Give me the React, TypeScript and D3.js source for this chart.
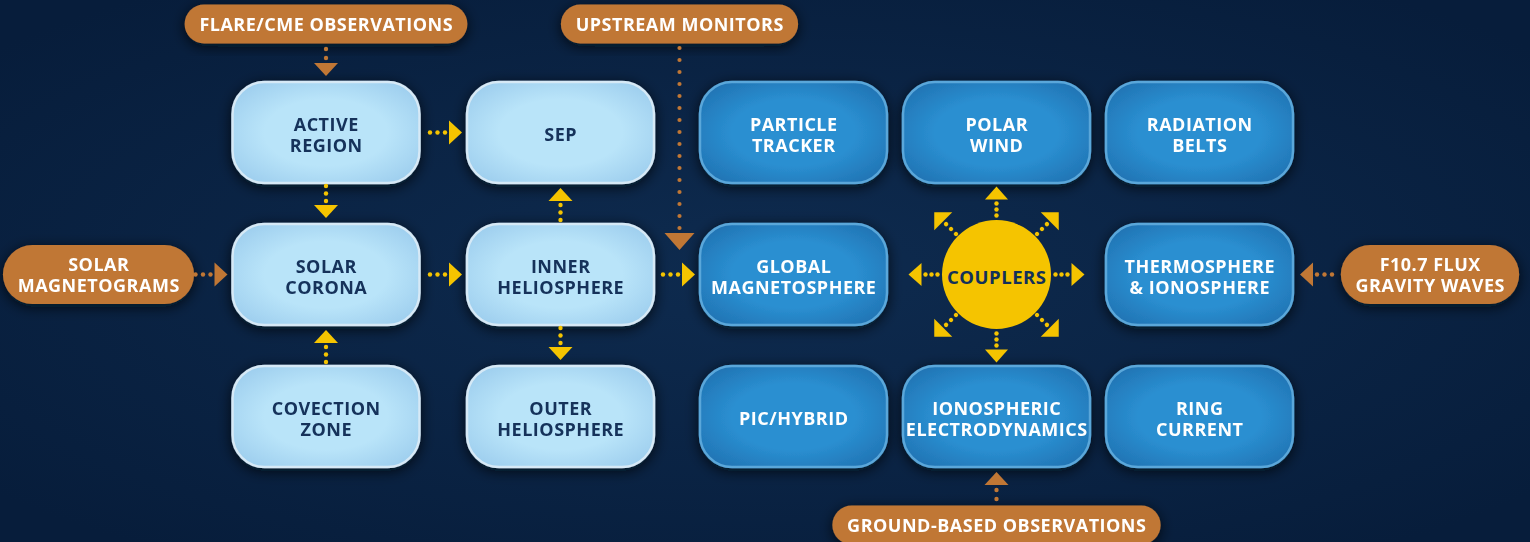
import React from 'react';
import * as d3 from 'd3';

// model boxes (grid membership only, layout lives in the scales below)
const boxIds = ['active', 'sep', 'corona', 'inner', 'convection', 'outer', 'particle', 'polar', 'radiation', 'global', 'thermo', 'pic', 'iono', 'ring'];
const boxLabels = [
  ['ACTIVE', 'REGION'], ['SEP'], ['SOLAR', 'CORONA'], ['INNER', 'HELIOSPHERE'], ['COVECTION', 'ZONE'], ['OUTER', 'HELIOSPHERE'],
  ['PARTICLE', 'TRACKER'], ['POLAR', 'WIND'], ['RADIATION', 'BELTS'], ['GLOBAL', 'MAGNETOSPHERE'], ['THERMOSPHERE', '& IONOSPHERE'],
  ['PIC/HYBRID'], ['IONOSPHERIC', 'ELECTRODYNAMICS'], ['RING', 'CURRENT'],
];
const boxCols = ['c1', 'c2', 'c1', 'c2', 'c1', 'c2', 'c3', 'c4', 'c5', 'c3', 'c5', 'c3', 'c4', 'c5'];
const boxRows = ['r1', 'r1', 'r2', 'r2', 'r3', 'r3', 'r1', 'r1', 'r1', 'r2', 'r2', 'r3', 'r3', 'r3'];
const boxTones = ['sun', 'sun', 'sun', 'sun', 'sun', 'sun', 'geo', 'geo', 'geo', 'geo', 'geo', 'geo', 'geo', 'geo'];

// observation inputs
const sourceIds = ['flare', 'upstream', 'magneto', 'f107', 'ground'];
const sourceLabels = [['FLARE/CME OBSERVATIONS'], ['UPSTREAM MONITORS'], ['SOLAR', 'MAGNETOGRAMS'], ['F10.7 FLUX', 'GRAVITY WAVES'], ['GROUND-BASED OBSERVATIONS']];
const sourceCols = ['c1', 'gap', 'west', 'east', 'c4'];
const sourceRows = ['top', 'top', 'r2', 'r2', 'bottom'];

const links = [
  ['active', 'sep'], ['active', 'corona'], ['corona', 'inner'], ['convection', 'corona'],
  ['inner', 'sep'], ['inner', 'outer'], ['inner', 'global'],
  ['flare', 'active'], ['magneto', 'corona'], ['f107', 'thermo'], ['ground', 'iono'], ['upstream', 'global'],
];

const couplerLabel = 'COUPLERS';
const couplerAngles = [0, 45, 90, 135, 180, 225, 270, 315];

const W = 1530;
const H = 542;
const BOX_W = 187;
const BOX_H = 101;
const FONT = "'Open Sans', sans-serif";
const FS = 18;
const LS = 0.5;
const YELLOW = '#f5c400';
const ORANGE = '#c07735';

const x = d3.scaleOrdinal<string, number>()
  .domain(['west', 'c1', 'c2', 'gap', 'c3', 'c4', 'c5', 'east'])
  .range([98.5, 326, 560.5, 679.5, 793.5, 996.5, 1199.5, 1430]);
const y = d3.scaleOrdinal<string, number>()
  .domain(['top', 'r1', 'r2', 'r3', 'bottom'])
  .range([24, 132.5, 274.5, 416.5, 525]);

const textW = (s: string, size: number) => {
  const c = document.createElement('canvas').getContext('2d')!;
  c.font = `700 ${size}px ${FONT}`;
  return c.measureText(s).width + s.length * LS;
};

type Rect = { id: string; cx: number; cy: number; w: number; h: number };

const Arrow = ({ tx, ty, angle, dots, spacing, color, len = 13, wid = 24, gap = 5, r = 2.2 }: any) => (
  <g transform={`translate(${tx},${ty}) rotate(${angle})`}>
    <path d={`M0,0L${-len},${-wid / 2}L${-len},${wid / 2}Z`} fill={color} />
    {d3.range(dots).map((i) => (
      <circle key={i} cx={-len - gap - i * spacing} cy={0} r={r} fill={color} />
    ))}
  </g>
);

const Label = ({ lines, cx, cy, fill, size = FS }: any) => (
  <text x={cx} textAnchor="middle" fill={fill} fontFamily={FONT} fontWeight={700} fontSize={size} letterSpacing={LS}>
    {lines.map((l: string, i: number) => (
      <tspan key={i} x={cx + LS / 2} y={cy + 2.5 + (i - (lines.length - 1) / 2) * 21} dy="0.36em">{l}</tspan>
    ))}
  </text>
);

export default function App() {
  const boxes: Rect[] = boxIds.map((id, i) => ({ id, cx: x(boxCols[i]), cy: y(boxRows[i]), w: BOX_W, h: BOX_H }));
  const sources: Rect[] = sourceIds.map((id, i) => {
    const lines = sourceLabels[i];
    const w = Math.max(...lines.map((l) => textW(l, FS))) + 29;
    return { id, cx: x(sourceCols[i]), cy: y(sourceRows[i]), w, h: lines.length > 1 ? 59 : 39 };
  });
  const all = new Map<string, Rect>([...boxes, ...sources].map((d) => [d.id, d]));

  const arrows = links.map(([s, t], i) => {
    const a = all.get(s)!;
    const b = all.get(t)!;
    const fromSource = sourceIds.includes(s);
    const color = fromSource ? ORANGE : YELLOW;
    if (a.cx !== b.cx && a.cy !== b.cy) {
      // long drop down the gutter
      const tipY = b.cy - b.h / 2 + 26;
      const base = tipY - 17;
      const start = a.cy + a.h / 2 + 3;
      const n = Math.floor((base - 5 - start) / 12) + 1;
      return <Arrow key={i} tx={a.cx} ty={tipY} angle={90} dots={n} spacing={12} color={color} len={17} wid={30} gap={5} r={2.1} />;
    }
    if (a.cy === b.cy) {
      const dir = b.cx > a.cx ? 1 : -1;
      const tx = dir > 0 ? b.cx - b.w / 2 - 5 : b.cx + b.w / 2 + 7;
      return <Arrow key={i} tx={tx} ty={b.cy} angle={dir > 0 ? 0 : 180} dots={3} spacing={7.5} color={color} gap={4} />;
    }
    const dir = b.cy > a.cy ? 1 : -1;
    const ty = dir > 0 ? b.cy - b.h / 2 - 6 : b.cy + b.h / 2 + 5;
    return (
      <Arrow key={i} tx={b.cx} ty={ty} angle={dir > 0 ? 90 : -90} dots={fromSource ? 2 : 3}
        spacing={fromSource ? 9 : 7.5} color={color} gap={fromSource ? 5 : 4} />
    );
  });

  const cc = { cx: x('c4'), cy: y('r2') };
  const R = 54.5;

  return (
    <svg width={W} height={H} style={{ position: 'absolute', left: 0, top: 0 }}>
      <defs>
        <radialGradient id="bg" cx="50%" cy="50%" r="65%">
          <stop offset="0%" stopColor="#0e2b4f" />
          <stop offset="100%" stopColor="#071d3b" />
        </radialGradient>
        <radialGradient id="sun" cx="50%" cy="50%" r="60%">
          <stop offset="55%" stopColor="#b9e4f9" />
          <stop offset="100%" stopColor="#a0d0ef" />
        </radialGradient>
        <radialGradient id="geo" cx="50%" cy="50%" r="60%">
          <stop offset="55%" stopColor="#2a8fd1" />
          <stop offset="100%" stopColor="#2276b6" />
        </radialGradient>
        <filter id="shadow" x="-30%" y="-30%" width="160%" height="160%">
          <feDropShadow dx="0" dy="3" stdDeviation="7" floodColor="#000814" floodOpacity="0.75" />
        </filter>
      </defs>
      <rect width={W} height={H} fill="url(#bg)" />

      {sources.map((d, i) => (
        <g key={d.id} filter="url(#shadow)">
          <rect x={d.cx - d.w / 2} y={d.cy - d.h / 2} width={d.w} height={d.h} rx={d.h / 2} fill={ORANGE} />
          <Label lines={sourceLabels[i]} cx={d.cx} cy={d.cy - 2} fill="#ffffff" />
        </g>
      ))}

      {boxes.map((d, i) => (
        <g key={d.id} filter="url(#shadow)">
          <rect x={d.cx - d.w / 2} y={d.cy - d.h / 2} width={d.w} height={d.h} rx={32}
            fill={`url(#${boxTones[i]})`} stroke={boxTones[i] === 'sun' ? '#d6e9f6' : '#5aa7da'} strokeWidth={2.5} />
          <Label lines={boxLabels[i]} cx={d.cx} cy={d.cy} fill={boxTones[i] === 'sun' ? '#12305a' : '#ffffff'} />
        </g>
      ))}

      {arrows}

      <g>
        <circle cx={cc.cx} cy={cc.cy} r={R} fill={YELLOW} />
        <Label lines={[couplerLabel]} cx={cc.cx} cy={cc.cy} fill="#12305a" size={18.5} />
        {couplerAngles.map((a) => {
          const rad = (a * Math.PI) / 180;
          const diag = a % 90 !== 0;
          return (
            <Arrow key={a} tx={cc.cx + 88 * Math.cos(rad)} ty={cc.cy + 88 * Math.sin(rad)} angle={a}
              dots={3} spacing={diag ? 7 : 6} color={YELLOW} len={diag ? 12.7 : 13} wid={diag ? 25.4 : 23} gap={4} />
          );
        })}
      </g>
    </svg>
  );
}
